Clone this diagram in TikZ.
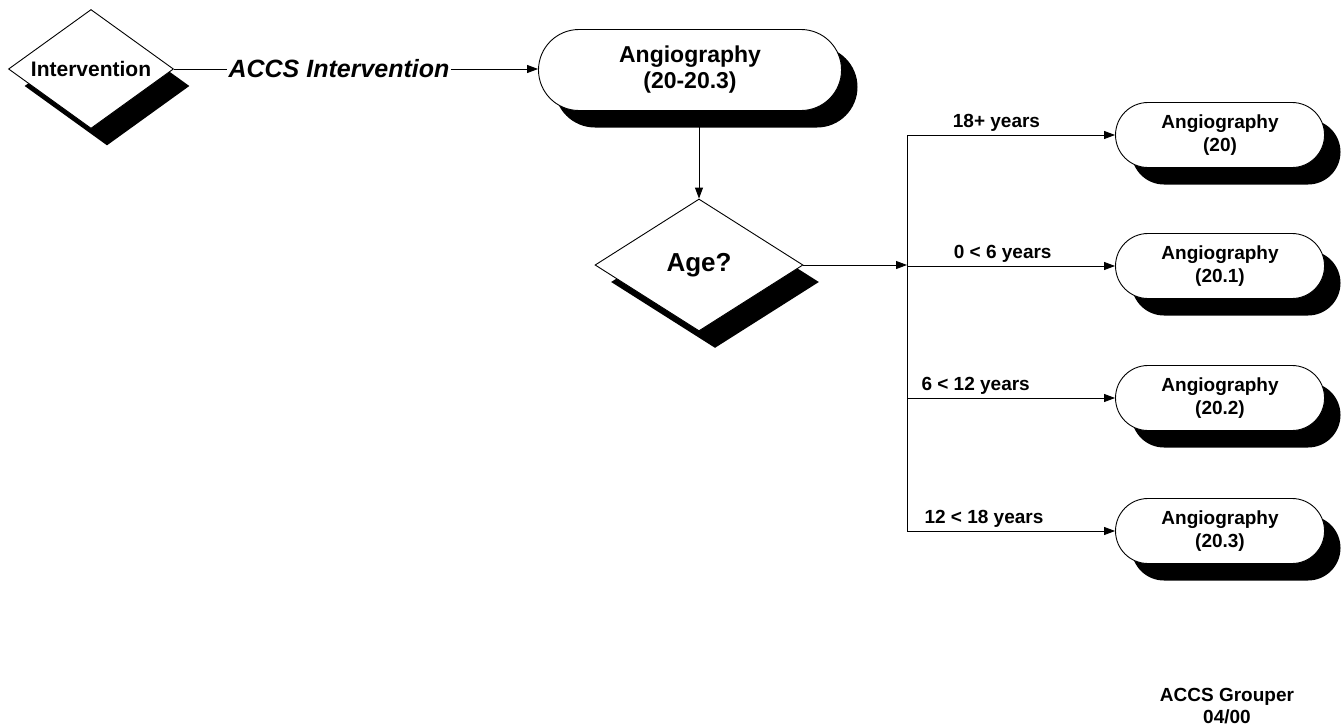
\documentclass[tikz,border=0pt]{standalone}
\usepackage{fontspec}
\setmainfont{Liberation Sans}
\usetikzlibrary{positioning, shapes.geometric, shapes.misc, shadows, arrows.meta}

\begin{document}
\begin{tikzpicture}[x=1pt, y=-1pt, line width=0.9pt,
    arr/.style={-{Triangle[length=11pt,width=8pt]}},
    shade/.style={drop shadow={shadow xshift=16pt, shadow yshift=-17pt, opacity=1, fill=black}},
    decision/.style={diamond, draw, fill=white, inner sep=0pt, shade},
    terminal/.style={rounded rectangle, draw, fill=white, align=center, inner sep=0pt, shade},
    lbl/.style={font=\bfseries\fontsize{19}{22}\selectfont, inner sep=3pt}]
      \useasboundingbox (0,0) rectangle (1341,728);
      % shapes
      \node[decision, shape aspect=1.39, minimum width=165pt, minimum height=119pt, font=\bfseries\fontsize{21}{24}\selectfont] (interv) at (91,69) {Intervention};
      \node[terminal, minimum width=303pt, minimum height=81pt, font=\bfseries\fontsize{23}{26}\selectfont] (angio) at (690,70) {Angiography\\(20-20.3)};
      \node[decision, shape aspect=1.58, minimum width=208pt, minimum height=132pt, font=\bfseries\fontsize{26}{28}\selectfont] (age) at (699,265) {Age?};
      \node[terminal, minimum width=209pt, minimum height=65pt, font=\bfseries\fontsize{19}{23}\selectfont] (a20) at (1220,135) {Angiography\\(20)};
      \node[terminal, minimum width=209pt, minimum height=65pt, font=\bfseries\fontsize{19}{23}\selectfont] (a201) at (1220,266) {Angiography\\(20.1)};
      \node[terminal, minimum width=209pt, minimum height=65pt, font=\bfseries\fontsize{19}{23}\selectfont] (a202) at (1220,398) {Angiography\\(20.2)};
      \node[terminal, minimum width=209pt, minimum height=65pt, font=\bfseries\fontsize{19}{23}\selectfont] (a203) at (1220,531) {Angiography\\(20.3)};
      \node[font=\bfseries\itshape\fontsize{25}{28}\selectfont, inner sep=1pt] (accs) at (339,69) {ACCS Intervention};
      \node[lbl, align=center] (grouper) at (1227,706) {ACCS Grouper\\04/00};
      \coordinate (bus) at (907,265);
      % connectors
      \draw (interv.east) -- (accs.west);
      \draw[arr] (accs.east) -- (accs.east -| angio.west);
      \draw[arr] (angio.south -| age.north) -- (age.north);
      \draw[arr] (age.east) -- (bus);
      \draw (bus |- a20.west) -- (bus |- a203.west);
      \draw[arr] (bus |- a20.west) -- node[lbl, above, pos=0.43] (l18) {18+ years} (a20.west);
      \draw[arr] (bus |- a201.west) -- node[lbl, above, pos=0.46] (l0) {0 < 6 years} (a201.west);
      \draw[arr] (bus |- a202.west) -- node[lbl, above, pos=0.33] (l6) {6 < 12 years} (a202.west);
      \draw[arr] (bus |- a203.west) -- node[lbl, above, pos=0.37] (l12) {12 < 18 years} (a203.west);
\end{tikzpicture}
\end{document}
